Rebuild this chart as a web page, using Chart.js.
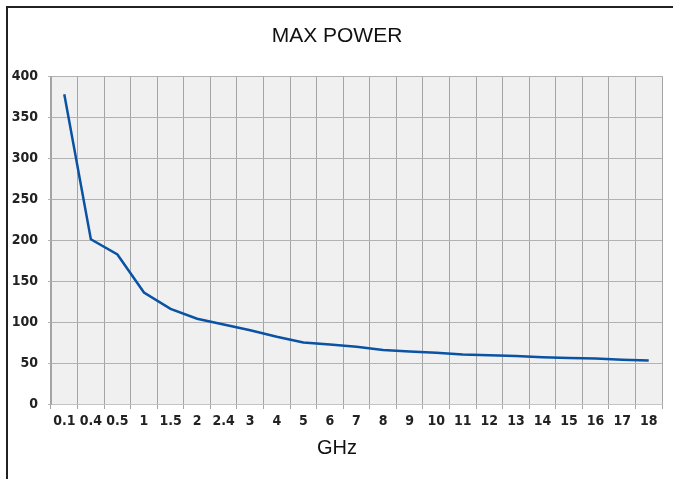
<!DOCTYPE html>
<html>
<head>
<meta charset="utf-8">
<script src="https://cdn.jsdelivr.net/npm/chart.js@4/dist/chart.umd.min.js"></script>
<style>
html,body{margin:0;padding:0;background:#fff;}
#wrap{width:673px;height:479px;position:relative;}
</style>
</head>
<body>
<div id="wrap"><canvas id="c" width="673" height="479"></canvas></div>
<script>
const categories = ['0.1','0.4','0.5','1','1.5','2','2.4','3','4','5','6','7','8','9','10','11','12','13','14','15','16','17','18'];
const maxPower = [378, 201, 182.5, 136, 116, 104, 97, 90, 82, 75, 72.5, 70, 66, 64, 62.5, 60.5, 59.5, 58.5, 57, 56, 55.5, 54, 53];
const yTicks = [0, 50, 100, 150, 200, 250, 300, 350, 400];
const titleText = 'MAX POWER';
const xTitleText = 'GHz';

// pick a condensed face if one is installed
function pickNarrow() {
  const cands = ['Liberation Sans Narrow', 'DejaVu Sans Condensed', 'Arial Narrow', 'Roboto Condensed', 'Open Sans Condensed'];
  const ctx = document.createElement('canvas').getContext('2d');
  const s = '0123456789 0.1 0.4';
  ctx.font = 'bold 14px monospace';
  const base = ctx.measureText(s).width;
  for (const c of cands) {
    ctx.font = `bold 14px "${c}", monospace`;
    const w = ctx.measureText(s).width;
    if (Math.abs(w - base) > 0.5) return {family: `"${c}"`, narrow: true};
  }
  return {family: "'Liberation Sans', Arial, sans-serif", narrow: false};
}
const nf = pickNarrow();
const tickFont = nf.narrow
  ? {family: nf.family, size: 14, weight: 'bold'}
  : {family: nf.family, size: 13, weight: 'bold'};

const frame = {
  id: 'frame',
  beforeDraw(chart) {
    const {ctx, chartArea: a} = chart;
    ctx.save();
    ctx.fillStyle = '#f0f0f0';
    ctx.fillRect(a.left, a.top, a.right - a.left, a.bottom - a.top);
    ctx.strokeStyle = '#222';
    ctx.lineWidth = 2;
    ctx.beginPath();
    ctx.moveTo(7, chart.height);
    ctx.lineTo(7, 7);
    ctx.lineTo(chart.width, 7);
    ctx.stroke();
    ctx.restore();
  }
};

new Chart(document.getElementById('c'), {
  type: 'line',
  data: {
    labels: categories,
    datasets: [{
      data: maxPower,
      borderColor: '#0a52a3',
      borderWidth: 2.5,
      pointRadius: 0,
      tension: 0,
      fill: false
    }]
  },
  options: {
    responsive: false,
    animation: false,
    layout: {padding: {left: 12, right: 11, top: 0, bottom: 0}},
    plugins: {
      legend: {display: false},
      tooltip: {enabled: false},
      title: {
        display: true,
        text: titleText,
        color: '#111',
        font: {family: "'Liberation Sans', Arial, sans-serif", size: 21, weight: 'normal'},
        padding: {top: 24, bottom: 27}
      },
      subtitle: {
        display: true,
        position: 'bottom',
        text: xTitleText,
        color: '#111',
        font: {family: "'Liberation Sans', Arial, sans-serif", size: 20, weight: 'normal'},
        padding: {top: 0, bottom: 19}
      }
    },
    scales: {
      x: {
        type: 'category',
        offset: true,
        grid: {offset: true, color: '#a4a4a4', lineWidth: 1, tickLength: 5, drawTicks: true},
        border: {color: '#c4c4c4', width: 1},
        ticks: {color: '#222', font: tickFont, padding: 4, maxRotation: 0, autoSkip: false},
        afterFit(s) { s.height = 32; }
      },
      y: {
        min: 0,
        max: 400,
        afterBuildTicks(s) { s.ticks = yTicks.map(v => ({value: v})); },
        grid: {color: '#b2b2b2', lineWidth: 1, tickLength: 3},
        border: {color: '#a4a4a4', width: 1},
        ticks: {color: '#222', font: tickFont, padding: 10},
        afterFit(s) { s.width = 39; }
      }
    }
  },
  plugins: [frame]
});
</script>
</body>
</html>
